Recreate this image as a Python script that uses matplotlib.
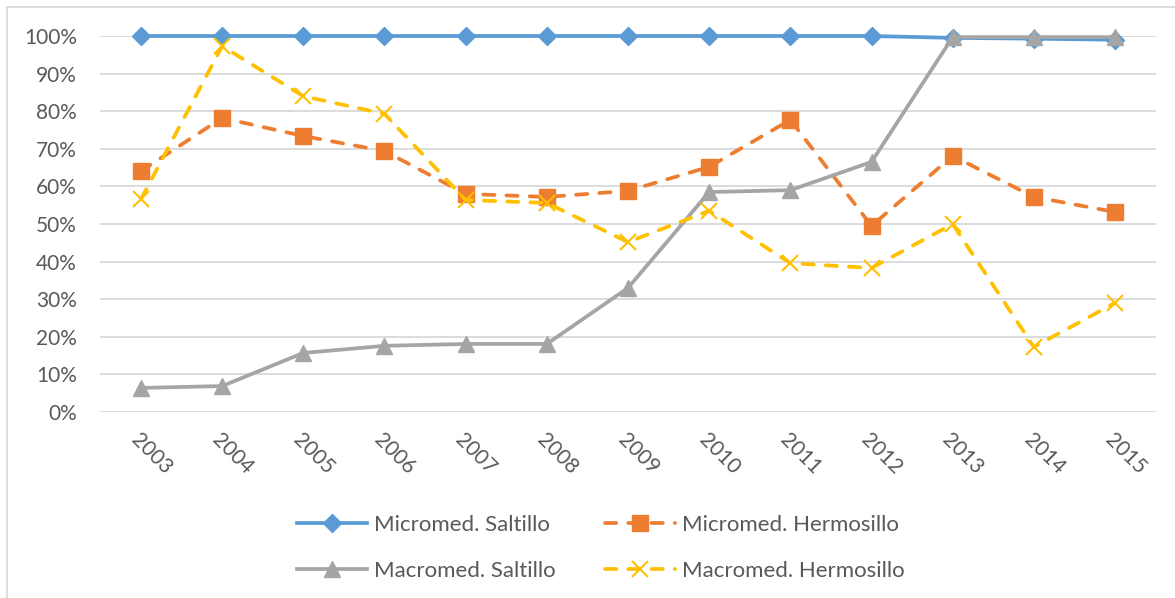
import matplotlib
matplotlib.use("Agg")
import matplotlib.pyplot as plt
from matplotlib.patches import Rectangle
from matplotlib.ticker import PercentFormatter

# Data (fractions)
years = ["2003", "2004", "2005", "2006", "2007", "2008", "2009",
         "2010", "2011", "2012", "2013", "2014", "2015"]
micro_saltillo = [1.0, 1.0, 1.0, 1.0, 1.0, 1.0, 1.0, 1.0, 1.0, 1.0, 0.995, 0.993, 0.99]
micro_hermosillo = [0.641, 0.782, 0.734, 0.694, 0.580, 0.572, 0.588,
                    0.652, 0.777, 0.495, 0.681, 0.572, 0.532]
macro_saltillo = [0.064, 0.069, 0.157, 0.176, 0.181, 0.181, 0.330,
                  0.585, 0.590, 0.665, 0.997, 0.997, 0.997]
macro_hermosillo = [0.566, 0.973, 0.840, 0.793, 0.564, 0.556, 0.452,
                    0.535, 0.396, 0.383, 0.500, 0.173, 0.290]

plt.rcParams['font.family'] = ['Lato', 'DejaVu Sans']

W, H = 1175, 598
fig = plt.figure(figsize=(W / 100, H / 100), dpi=100)
ax = fig.add_axes([100.4 / W, 1 - 412 / H, (1155.6 - 100.4) / W, (412 - 36) / H])

# chart area border (only left and top edges are visible in the crop)
fig.patches.append(Rectangle((7 / W, -0.5), 2, (H - 7) / H + 0.5, transform=fig.transFigure,
                             fill=False, edgecolor="#D9D9D9", lw=1.3))

x = list(range(len(years)))
lw = 2.7
dash = (3.0, 3.2)
l1, = ax.plot(x, micro_saltillo, color="#5B9BD5", lw=lw, marker="D", ms=9,
              clip_on=False, zorder=3)
l2, = ax.plot(x, micro_hermosillo, color="#ED7D31", lw=lw, marker="s", ms=11,
              dashes=dash, dash_capstyle="round", clip_on=False, zorder=4)
l3, = ax.plot(x, macro_saltillo, color="#A5A5A5", lw=lw, marker="^", ms=11,
              clip_on=False, zorder=5)
l4, = ax.plot(x, macro_hermosillo, color="#FFC000", lw=lw, marker="x", ms=11, mew=1.5,
              dashes=dash, dash_capstyle="round", clip_on=False, zorder=6)

ax.set_xlim(-0.5, len(years) - 0.5)
ax.set_ylim(0, 1)
ax.set_yticks([i / 10 for i in range(11)])
ax.yaxis.set_major_formatter(PercentFormatter(1.0, decimals=0))
ax.grid(axis="y", color="#D9D9D9", lw=1.3)
ax.set_axisbelow(True)
for s in ax.spines.values():
    s.set_visible(False)
ax.tick_params(length=0, labelsize=15, labelcolor="#595959")
ax.tick_params(axis="y", pad=16.8)
ax.set_xticks(x)
ax.set_xticklabels(years, rotation=-45, ha="left", va="top", rotation_mode="anchor")
ax.tick_params(axis="x", pad=13)

leg = fig.legend([l1, l3, l2, l4],
                 ["Micromed. Saltillo", "Macromed. Saltillo",
                  "Micromed. Hermosillo", "Macromed. Hermosillo"],
                 ncol=2, loc="upper left", bbox_to_anchor=(297 / W, 1 - 515 / H),
                 frameon=False, fontsize=16, handlelength=3.15, handletextpad=0.32,
                 labelspacing=1.16, columnspacing=2.2, borderpad=0, borderaxespad=0,
                 labelcolor="#595959")

fig.savefig("out.png", dpi=100)
